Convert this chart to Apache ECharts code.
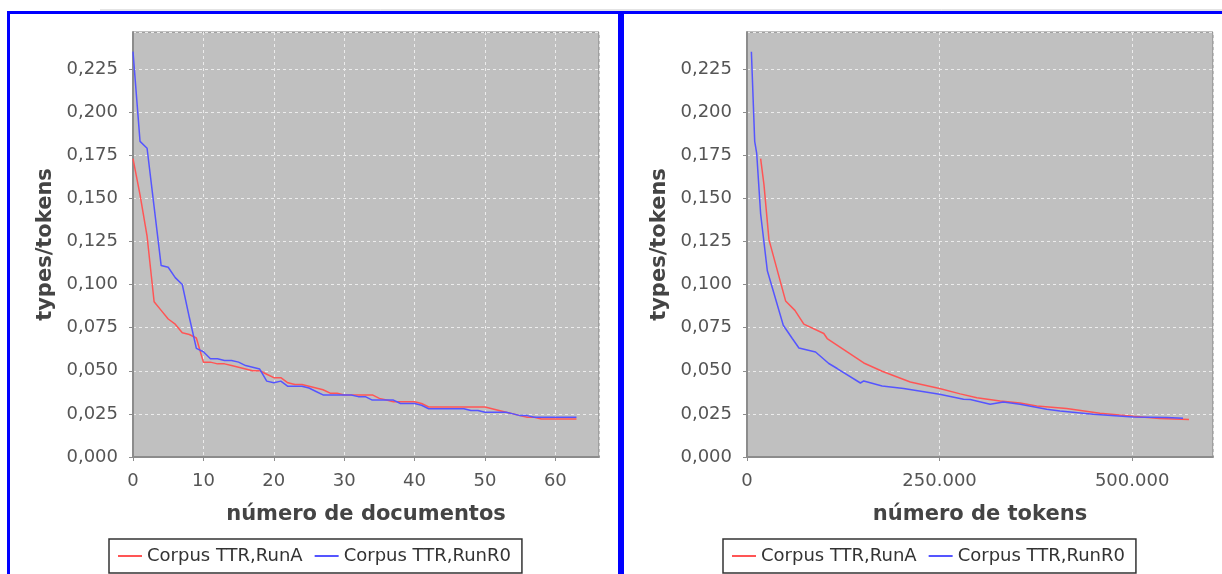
<!DOCTYPE html>
<html>
<head>
<meta charset="utf-8">
<title>TTR</title>
<script src="https://cdn.jsdelivr.net/npm/echarts@6/dist/echarts.min.js"></script>
<style>
  html, body { margin: 0; padding: 0; background: #ffffff; }
  #main { width: 1222px; height: 574px; }
</style>
</head>
<body>
<div id="main"></div>
<script>
// nomes das series
var serieA = 'Corpus TTR,RunA';
var serieR0 = 'Corpus TTR,RunR0';

// TTR por numero de documentos (indice 0..63)
var docsRunA = [
    0.173, 0.152, 0.128, 0.090, 0.085, 0.080, 0.077, 0.072, 0.071, 0.069,
    0.055, 0.055, 0.054, 0.054, 0.053, 0.052, 0.051, 0.050, 0.050, 0.048,
    0.046, 0.046, 0.043, 0.042, 0.042, 0.041, 0.040, 0.039, 0.037, 0.037,
    0.036, 0.036, 0.036, 0.036, 0.036, 0.034, 0.033, 0.032, 0.032, 0.032,
    0.032, 0.031, 0.029, 0.029, 0.029, 0.029, 0.029, 0.029, 0.029, 0.029,
    0.029, 0.028, 0.027, 0.026, 0.025, 0.024, 0.023, 0.023, 0.022, 0.022,
    0.022, 0.022, 0.022, 0.022
];
var docsRunR0 = [
    0.235, 0.183, 0.179, 0.145, 0.111, 0.110, 0.104, 0.100, 0.081, 0.063,
    0.061, 0.057, 0.057, 0.056, 0.056, 0.055, 0.053, 0.052, 0.051, 0.044,
    0.043, 0.044, 0.041, 0.041, 0.041, 0.040, 0.038, 0.036, 0.036, 0.036,
    0.036, 0.036, 0.035, 0.035, 0.033, 0.033, 0.033, 0.033, 0.031, 0.031,
    0.031, 0.030, 0.028, 0.028, 0.028, 0.028, 0.028, 0.028, 0.027, 0.027,
    0.026, 0.026, 0.026, 0.026, 0.025, 0.024, 0.024, 0.023, 0.023, 0.023,
    0.023, 0.023, 0.023, 0.023
];

// TTR por numero de tokens
var tokensRunA = [17700, 22000, 28500, 50100, 62200, 73800, 99700, 104100, 151600, 175400,
    212000, 250000, 276800, 298400, 328600, 354500, 376200, 415000, 458200, 501300,
    535900, 573800];
var ttrRunA = [0.173, 0.158, 0.126, 0.0905, 0.085, 0.077, 0.0716, 0.0687, 0.0545, 0.0497,
    0.0435, 0.0397, 0.0366, 0.0344, 0.0325, 0.0313, 0.0296, 0.0281, 0.0254, 0.0236,
    0.0223, 0.0217];
var tokensRunR0 = [5700, 10000, 12600, 17700, 26400, 47100, 58800, 67400, 89000, 106200,
    117100, 147300, 151600, 175400, 203400, 250000, 281100, 289800, 315700, 332900,
    354500, 389100, 406300, 449500, 501300, 544600, 566100];
var ttrRunR0 = [0.235, 0.183, 0.176, 0.141, 0.108, 0.0764, 0.0687, 0.0632, 0.0609, 0.0542,
    0.0513, 0.0429, 0.0441, 0.0412, 0.0397, 0.0364, 0.0335, 0.0333, 0.0306, 0.0319,
    0.0306, 0.0277, 0.0267, 0.0248, 0.0232, 0.0229, 0.0224];

function pares(xs, ys) {
    var r = [];
    for (var i = 0; i < xs.length; i++) {
        r.push([xs[i], ys[i]]);
    }
    return r;
}
function indexados(ys) {
    return ys.map(function (v, i) { return [i, v]; });
}

var fonte = 'DejaVu Sans';
var corA = '#ff5555';
var corR0 = '#5555ff';

function eixoX(idx, max, interval, nome, fmt) {
    return {
        type: 'value',
        gridIndex: idx,
        min: 0,
        max: max,
        interval: interval,
        offset: 6,
        name: nome,
        nameLocation: 'middle',
        nameGap: 41,
        nameTextStyle: { fontFamily: fonte, fontSize: 21, fontWeight: 'bold', color: '#444' },
        axisLine: { show: true, lineStyle: { color: '#8c8c8c', width: 2 } },
        axisTick: { show: true, length: 4, lineStyle: { color: '#8c8c8c', width: 1 } },
        axisLabel: {
            fontFamily: fonte, fontSize: 18, color: '#555', margin: 9,
            showMaxLabel: false, formatter: fmt
        },
        splitLine: { show: true, lineStyle: { color: '#ececec', type: [3, 3], width: 1 } }
    };
}
function eixoY(idx) {
    return {
        type: 'value',
        gridIndex: idx,
        min: 0,
        max: 0.2464,
        interval: 0.025,
        offset: 6,
        name: 'types/tokens',
        nameLocation: 'middle',
        nameGap: 71,
        nameTextStyle: { fontFamily: fonte, fontSize: 21, fontWeight: 'bold', color: '#444' },
        axisLine: { show: true, lineStyle: { color: '#8c8c8c', width: 2 } },
        axisTick: { show: true, length: 4, lineStyle: { color: '#8c8c8c', width: 1 } },
        axisLabel: {
            fontFamily: fonte, fontSize: 18, color: '#555', margin: 9,
            showMaxLabel: false,
            formatter: function (v) { return v.toFixed(3).replace('.', ','); }
        },
        splitLine: { show: true, lineStyle: { color: '#ececec', type: [3, 3], width: 1 } }
    };
}
function legenda(left) {
    return {
        left: left,
        top: 539,
        orient: 'horizontal',
        data: [serieA, serieR0],
        icon: 'rect',
        itemWidth: 24,
        itemHeight: 2,
        itemGap: 12,
        padding: [8, 11, 8, 9],
        borderColor: '#333',
        borderWidth: 1.5,
        backgroundColor: '#fff',
        textStyle: { fontFamily: fonte, fontSize: 18, color: '#333' }
    };
}
function milhar(v) {
    return String(v).replace(/\B(?=(\d{3})+(?!\d))/g, '.');
}

var myChart = echarts.init(document.getElementById('main'));

var option = {
    animation: false,
    backgroundColor: '#ffffff',
    textStyle: { fontFamily: fonte },
    graphic: [
        { type: 'line', shape: { x1: 100, y1: 10, x2: 1222, y2: 10 }, style: { stroke: '#c8c8c8', lineWidth: 1 } },
        { type: 'rect', shape: { x: 8.5, y: 12.5, width: 611, height: 700 }, style: { fill: 'none', stroke: '#0000ff', lineWidth: 3 } },
        { type: 'rect', shape: { x: 622.5, y: 12.5, width: 700, height: 700 }, style: { fill: 'none', stroke: '#0000ff', lineWidth: 3 } }
    ],
    legend: [legenda(109), legenda(723)],
    grid: [
        { left: 133, top: 32, width: 466, height: 425, show: true, backgroundColor: '#c0c0c0', borderColor: '#808080', borderWidth: 1 },
        { left: 747, top: 32, width: 466, height: 425, show: true, backgroundColor: '#c0c0c0', borderColor: '#808080', borderWidth: 1 }
    ],
    xAxis: [
        eixoX(0, 66.2, 10, 'número de documentos'),
        eixoX(1, 605000, 250000, 'número de tokens', milhar)
    ],
    yAxis: [eixoY(0), eixoY(1)],
    series: [
        {
            name: serieA, type: 'line', xAxisIndex: 0, yAxisIndex: 0,
            data: indexados(docsRunA), showSymbol: false, symbol: 'none',
            lineStyle: { color: corA, width: 1.5 }, itemStyle: { color: corA }
        },
        {
            name: serieR0, type: 'line', xAxisIndex: 0, yAxisIndex: 0,
            data: indexados(docsRunR0), showSymbol: false, symbol: 'none',
            lineStyle: { color: corR0, width: 1.5 }, itemStyle: { color: corR0 }
        },
        {
            name: serieA, type: 'line', xAxisIndex: 1, yAxisIndex: 1,
            data: pares(tokensRunA, ttrRunA), showSymbol: false, symbol: 'none',
            lineStyle: { color: corA, width: 1.5 }, itemStyle: { color: corA }
        },
        {
            name: serieR0, type: 'line', xAxisIndex: 1, yAxisIndex: 1,
            data: pares(tokensRunR0, ttrRunR0), showSymbol: false, symbol: 'none',
            lineStyle: { color: corR0, width: 1.5 }, itemStyle: { color: corR0 }
        }
    ]
};

myChart.setOption(option, true);
window.addEventListener('resize', function () {
    myChart.resize();
});
</script>
</body>
</html>
